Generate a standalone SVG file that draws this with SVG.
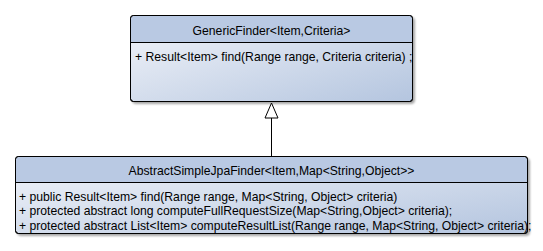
<svg xmlns="http://www.w3.org/2000/svg" width="543" height="251" viewBox="0 0 543 251">
  <defs>
    <linearGradient id="bodyFill" x1="0" y1="0" x2="1" y2="1">
      <stop offset="0" stop-color="#f3f5fa"/>
      <stop offset="1" stop-color="#b4c5df"/>
    </linearGradient>
    <filter id="shadow" x="-5%" y="-10%" width="110%" height="125%">
      <feGaussianBlur in="SourceAlpha" stdDeviation="1.2"/>
      <feOffset dx="2" dy="2" result="b"/>
      <feComponentTransfer><feFuncA type="linear" slope="0.35"/></feComponentTransfer>
      <feMerge><feMergeNode/><feMergeNode in="SourceGraphic"/></feMerge>
    </filter>
    <clipPath id="clipTop"><rect x="130.5" y="15.5" width="282" height="86" rx="3"/></clipPath>
  </defs>
  <style>
    .frame { fill: url(#bodyFill); stroke: #000; stroke-width: 1; }
    .head { fill: #b9c9e3; }
    .sep { stroke: #000; stroke-width: 1; }
    .title { font-family: "Liberation Sans", Arial, sans-serif; font-size: 12.2px; fill: #000; text-anchor: middle; }
    .member { font-family: "Liberation Sans", Arial, sans-serif; font-size: 12.2px; fill: #000; }
    .edge { stroke: #000; stroke-width: 1; fill: none; }
    .tri { stroke: #000; stroke-width: 1; fill: #fff; }
  </style>

  <!-- interface class box -->
  <g id="GenericFinder">
    <g filter="url(#shadow)">
      <rect class="frame" x="130.5" y="15.5" width="282" height="86" rx="3"/>
    </g>
    <path class="head" d="M131,42 V18.5 Q131,16 133.5,16 H409.5 Q412,16 412,18.5 V42 Z"/>
    <line class="sep" x1="130.5" y1="42.5" x2="412.5" y2="42.5"/>
    <rect x="130.5" y="15.5" width="282" height="86" rx="3" fill="none" stroke="#000"/>
    <text class="title" x="271.5" y="34.5">GenericFinder&lt;Item,Criteria&gt;</text>
    <g clip-path="url(#clipTop)">
      <text class="member" x="135" y="61">+ Result&lt;Item&gt; find(Range range, Criteria criteria) ;</text>
    </g>
  </g>

  <!-- abstract implementation class box -->
  <g id="AbstractSimpleJpaFinder">
    <g filter="url(#shadow)">
      <rect class="frame" x="15.5" y="156.5" width="512" height="77" rx="3"/>
    </g>
    <path class="head" d="M16,182 V159.5 Q16,157 18.5,157 H524.5 Q527,157 527,159.5 V182 Z"/>
    <line class="sep" x1="15.5" y1="182.5" x2="527.5" y2="182.5"/>
    <rect x="15.5" y="156.5" width="512" height="77" rx="3" fill="none" stroke="#000"/>
    <text class="title" x="271.5" y="174.5">AbstractSimpleJpaFinder&lt;Item,Map&lt;String,Object&gt;&gt;</text>
    <text class="member" x="19" y="200.5">+ public Result&lt;Item&gt; find(Range range, Map&lt;String, Object&gt; criteria)</text>
    <text class="member" x="19" y="215">+ protected abstract long computeFullRequestSize(Map&lt;String,Object&gt; criteria);</text>
    <text class="member" x="19" y="229.5">+ protected abstract List&lt;Item&gt; computeResultList(Range range, Map&lt;String, Object&gt; criteria);</text>
  </g>

  <!-- generalization connector -->
  <g id="connectors">
    <line class="edge" x1="271.5" y1="118" x2="271.5" y2="156"/>
    <polygon class="tri" points="271.5,103 265,118 278,118"/>
  </g>
</svg>
